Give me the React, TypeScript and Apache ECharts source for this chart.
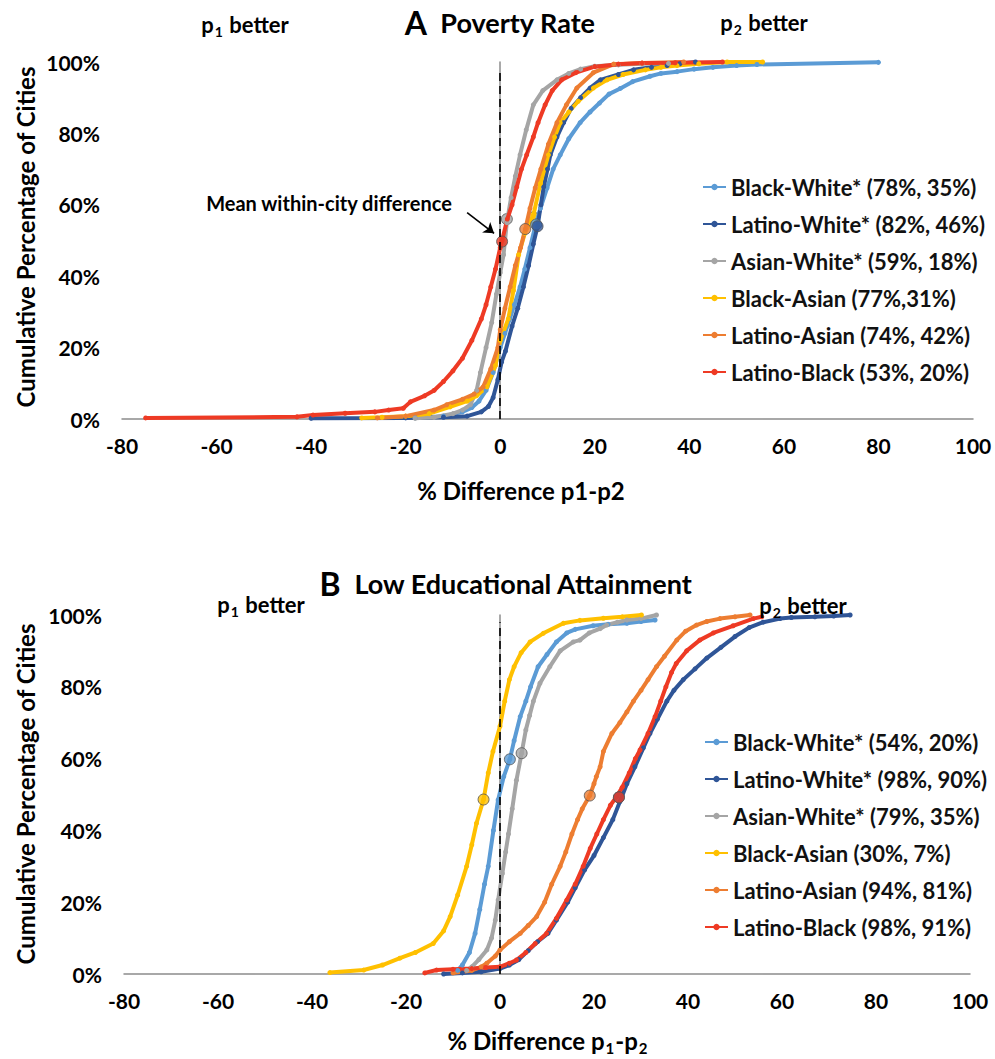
import React, { useEffect, useRef } from 'react';
import * as echarts from 'echarts';

// ---------- DATA ----------
const xTicks = [-80, -60, -40, -20, 0, 20, 40, 60, 80, 100];

const seriesNames = ['Black-White*', 'Latino-White*', 'Asian-White*', 'Black-Asian', 'Latino-Asian', 'Latino-Black'];
const povertyLegendStats = ['(78%, 35%)', '(82%, 46%)', '(59%, 18%)', '(77%,31%)', '(74%, 42%)', '(53%, 20%)'];
const educationLegendStats = ['(54%, 20%)', '(98%, 90%)', '(79%, 35%)', '(30%, 7%)', '(94%, 81%)', '(98%, 91%)'];

// Panel A: Poverty Rate  [difference, cumulative %]
const povBlackWhite = [[-18,0.3],[-12,0.8],[-8,2],[-6,3.2],[-4.5,5],[-3,8],[-1.5,13],[0,20],[1,24],[2,28],[3,32],[4.2,37],[5.2,42],[6.3,48],[7.4,54],[8.5,59],[9.9,64.7],[11.2,70],[12.7,74],[14.5,78.5],[16.9,83],[19,86],[21,88.5],[23,91],[25.4,92.6],[28,94.5],[31.7,96],[34,96.8],[37.4,97.3],[41,98],[45,98.5],[50,99],[54.3,99.3],[80,99.9]];
const povLatinoWhite = [[-40,0.2],[-20,0.3],[-12,0.5],[-7,0.8],[-4,2],[-2.5,3.5],[-1.5,6],[-0.5,11],[0.3,16],[1.1,19],[2.5,26],[3.7,31],[4.9,37],[6,43],[7,49],[7.9,54],[8.6,60],[9.2,65],[10,70],[10.6,74],[12,79],[13.4,83],[15,87],[17,90],[19,92.7],[21.2,95],[25,96.5],[28.2,97.8],[32,98.5],[35.3,99],[38,99.5],[41.3,100]];
const povAsianWhite = [[-18,0.2],[-14,0.5],[-10,1.5],[-8,2.5],[-6.3,4],[-5,8],[-4.2,13],[-3,20],[-1.8,27],[-0.8,35],[0,41],[0.7,46],[1.4,55],[2.3,62],[3.2,68],[4.2,74],[5.5,81],[7,88],[9,92],[12,95],[14.5,96.8],[17,98],[20,98.8],[25,99.2],[30,99.5],[35.6,99.6]];
const povBlackAsian = [[-29.3,0.3],[-25,0.5],[-20,0.8],[-15,1.5],[-10.6,3.4],[-7,5],[-5,6.5],[-2.8,9],[-1,15],[0,22],[1.7,28],[2.8,36],[3.9,46],[5.2,52],[7,57],[8.5,66],[10.2,74],[11.5,79],[12.7,83],[14.5,86],[16.5,89],[19.7,92.7],[22.6,95],[26,96.5],[30.7,97.8],[34,98.5],[37.4,99],[42,99.5],[48,100],[55.5,100]];
const povLatinoAsian = [[-26,0.3],[-20,0.8],[-14,2.5],[-11.3,4],[-8,5.5],[-5.5,7],[-3.6,9],[-2,14],[-0.5,20],[0,25],[1,31],[2.1,37],[3.2,43],[4.3,48],[5.3,53.2],[6.3,59],[7.4,64.7],[8.6,70],[10.2,77],[12,83],[14,88],[16.2,92.7],[19.7,97],[24,99.4],[30,99.7],[38.8,100]];
const povLatinoBlack = [[-75,0.3],[-43,0.6],[-39.6,1.1],[-32.8,1.6],[-26.5,2],[-23.6,2.5],[-20.5,3],[-19,4.8],[-16,6.5],[-14,8],[-12,10.5],[-10,13.5],[-8,17],[-6,22],[-4,28],[-3,32],[-2,37],[-1,42],[0,48],[0.4,50],[1.5,56],[2.5,60],[3.5,65],[4.5,70],[5.6,74],[7,79],[8,83],[9.5,88],[11,92],[13,95],[16,97],[20,98.7],[25,99.4],[30,99.7],[37,99.8],[47,100]];

// Panel A mean within-city differences
const povMeans = [[7.6,54.5],[7.9,54],[1.4,56],[7.0,56.5],[5.3,53.2],[0.4,49.7]];

// Panel B: Low Educational Attainment
const eduBlackWhite = [[-9,1],[-8,2.5],[-6.5,6],[-5.3,11.3],[-4.3,18],[-3.3,25],[-2.5,30],[-1.4,40],[-0.4,48.5],[0.8,55],[2.1,59.8],[3,65],[4.3,71.7],[5.5,76],[6.5,80],[8.1,85.6],[10,89],[12,92.5],[14.2,95],[16,96],[19.8,97],[23,97.4],[27,97.7],[30,98.2],[33,98.6]];
const eduLatinoWhite = [[-12,0],[-8,0.3],[-4,0.6],[0,1.5],[2,2.5],[4,4],[6,6.5],[8,9],[10.2,11.3],[12,15],[14.4,20],[16,24],[18,29],[20,33],[22,38],[24,43],[25.5,48],[27,53],[28.7,57.7],[30.5,63],[31.9,67],[33.5,71],[35.5,76],[37,79],[39,82],[41.5,85],[44,88],[47,91],[50,94],[53,96.5],[56,98],[59.6,99],[62,99.3],[67,99.5],[71,99.7],[74.5,100]];
const eduAsianWhite = [[-7.1,1],[-6,2],[-4.5,4],[-2.8,6.7],[-1.8,10],[-1,15],[-0.4,20.6],[0.5,28],[1.2,34],[1.8,39],[2.6,46],[3.5,54],[4.6,61.5],[5.5,68],[6.3,72],[7.1,76],[8.5,81],[10.6,85.6],[12.8,90],[15.6,92.5],[17,93],[19,95],[21.3,96.2],[22.7,97.2],[25,98],[27,98.6],[30,99],[33.3,100]];
const eduBlackAsian = [[-36.2,0.4],[-29,1.1],[-25,2.5],[-21.3,4.4],[-18,6],[-14.2,8.5],[-12,12],[-10.6,16],[-9,22],[-7.1,30],[-6,36],[-5,42],[-3.5,48.6],[-2.5,56],[-1.5,62],[0,69],[1,76],[2,82],[3,85.6],[4.5,89.5],[6.4,92.5],[9.2,94.9],[13.5,97.7],[17,98.5],[22,99.1],[26,99.5],[30.1,100]];
const eduLatinoAsian = [[-10,0.3],[-6,1],[-4,2],[-2.8,3],[-1,5],[0,6.7],[2,9],[4.3,11.3],[6,13.5],[7.8,16],[9.5,20],[11,25],[12.8,30],[14,34],[15.3,39],[16.5,43],[17.5,46],[19.1,49.7],[20,53],[20.5,55],[21.3,57.7],[22,62],[23.8,67],[25.5,70],[27,73],[28.4,76],[30,79],[31.5,82],[33.3,85.6],[35,88.5],[37.6,93],[39.5,95.5],[41.8,97.2],[44,98.2],[46.8,99],[50,99.5],[53.2,100]];
const eduLatinoBlack = [[-16,0.3],[-13.5,1.1],[-10,1.3],[-6,1.5],[-3,1.8],[0,2],[2,3],[3.5,3.9],[5.5,6],[7.5,8.5],[9.9,11.3],[12,15.5],[14.2,20.6],[16,25],[17.7,30],[19.2,35],[20.6,39],[22,43],[23.5,47],[24.8,49.4],[26,52],[27.5,56],[28.8,60],[29.8,62.4],[31.5,67],[33,71.7],[34.2,76],[35.3,80],[36.5,84],[37.5,86.5],[39.7,90],[42.5,93],[45.4,95],[49.6,97],[53.9,99],[55.7,99.5]];

// Panel B mean within-city differences
const eduMeans = [[2.1,59.8],[25.3,49.2],[4.6,61.5],[-3.5,48.6],[19.1,49.7],[25.3,49.2]];

const colors = ['#5B9BD5', '#2F5597', '#A5A5A5', '#FFC000', '#ED7D31', '#EE3A24'];
const FONT = 'Lato, "Open Sans", "DejaVu Sans", sans-serif';

const povertyData = [povBlackWhite, povLatinoWhite, povAsianWhite, povBlackAsian, povLatinoAsian, povLatinoBlack];
const educationData = [eduBlackWhite, eduLatinoWhite, eduAsianWhite, eduBlackAsian, eduLatinoAsian, eduLatinoBlack];
// marker drawing order (bottom to top) and their z
const povMeanOrder = [2, 3, 0, 1, 4, 5];
const povMeanZ = [1, 1, 4, 4, 4, 4];
const eduMeanOrder = [0, 2, 3, 4, 1, 5];

function buildOption() {
  const namesA = seriesNames.map((n, i) => `${n} ${povertyLegendStats[i]}`);
  const namesB = seriesNames.map((n, i) => `${n} ${educationLegendStats[i]}`);

  const lineSeries = (name: string, data: number[][], color: string, gi: number, extra: any = {}) => ({
    type: 'line',
    name,
    data,
    xAxisIndex: gi,
    yAxisIndex: gi,
    symbol: 'circle',
    symbolSize: 5,
    showSymbol: true,
    showAllSymbol: true,
    lineStyle: { color, width: 4 },
    itemStyle: { color },
    emphasis: { disabled: true },
    z: 2,
    ...extra,
  });

  const dashedZero = {
    silent: true,
    symbol: ['none', 'none'],
    label: { show: false },
    lineStyle: { color: '#000', type: [8, 5], width: 1.6 },
    data: [[{ coord: [0, 0] }, { coord: [0, 98] }]],
  };

  const series: any[] = [];
  povertyData.forEach((d, i) => {
    const extra: any = {};
    if (i === 0) extra.markLine = dashedZero;
    if (i === 5) {
      extra.markLine = {
        silent: true,
        symbol: ['none', 'arrow'],
        symbolSize: 10,
        label: { show: false },
        lineStyle: { color: '#000', type: 'solid', width: 1.6 },
        itemStyle: { color: '#000' },
        data: [[{ coord: [-7.0, 57.8] }, { coord: [-1.3, 52.0] }]],
      };
    }
    series.push(lineSeries(namesA[i], d, colors[i], 0, extra));
  });
  educationData.forEach((d, i) => {
    const extra: any = {};
    if (i === 0) extra.markLine = dashedZero;
    series.push(lineSeries(namesB[i], d, colors[i], 1, extra));
  });
  povMeanOrder.forEach((i, k) => {
    series.push({
      type: 'scatter', name: 'meanA' + i, xAxisIndex: 0, yAxisIndex: 0,
      data: [povMeans[i]], symbol: 'circle', symbolSize: 11,
      itemStyle: { color: colors[i], borderColor: '#555', borderWidth: 1 }, z: povMeanZ[k],
    });
  });
  eduMeanOrder.forEach((i) => {
    series.push({
      type: 'scatter', name: 'meanB' + i, xAxisIndex: 1, yAxisIndex: 1,
      data: [eduMeans[i]], symbol: 'circle', symbolSize: 11,
      itemStyle: { color: colors[i], borderColor: '#555', borderWidth: 1 }, z: 4,
    });
  });

  const xAxis = (gi: number) => ({
    type: 'value', gridIndex: gi, min: -80, max: 100, interval: 20,
    axisLine: { show: true, onZero: false, lineStyle: { color: '#8c8c8c', width: 1.5 } },
    axisTick: { show: false },
    splitLine: { show: false },
    axisLabel: { color: '#000', fontSize: 21, fontWeight: 'bold', fontFamily: FONT, margin: 16,
      customValues: xTicks },
  });
  const yAxis = (gi: number) => ({
    type: 'value', gridIndex: gi, min: 0, max: 100, interval: 20,
    axisLine: { show: true, lineStyle: { color: '#8c8c8c', width: 1.5 } },
    axisTick: { show: false },
    splitLine: { show: false },
    axisLabel: { color: '#000', fontSize: 21, fontWeight: 'bold', fontFamily: FONT, margin: 22, formatter: '{value}%' },
  });

  const legendCommon = {
    orient: 'vertical',
    itemWidth: 23,
    itemHeight: 8,
    itemGap: 15,
    selectedMode: false,
    textStyle: { fontSize: 22, fontWeight: 'bold', color: '#111', fontFamily: FONT, lineHeight: 22 },
  };

  const txt = (x: number, y: number, text: string, size: number, extra: any = {}) => ({
    type: 'text', x, y, z: 10, silent: true,
    style: { text, fill: '#000', fontSize: size, fontWeight: 'bold', fontFamily: FONT, align: 'center', verticalAlign: 'middle', ...extra },
  });
  const subRich = (size: number) => ({
    n: { fontSize: size, fontWeight: 'bold', fontFamily: FONT, fill: '#000', lineHeight: size + 6 },
    s: { fontSize: Math.round(size * 0.62), fontWeight: 'bold', fontFamily: FONT, fill: '#000', lineHeight: Math.round(size * 0.62), verticalAlign: 'bottom', padding: [0, 1, 0, 1] },
  });
  const titleRich = {
    a: { fontSize: 32, fontWeight: 'bold', fontFamily: FONT, fill: '#000' },
    b: { fontSize: 27, fontWeight: 'bold', fontFamily: FONT, fill: '#000' },
  };

  const graphic = [
    txt(500, 22, '{a|A}  {b|Poverty Rate}', 27, { rich: titleRich }),
    txt(506, 583, '{a|B}  {b|Low Educational Attainment}', 27, { rich: titleRich }),
    { ...txt(25, 237, 'Cumulative Percentage of Cities', 24), rotation: Math.PI / 2 },
    { ...txt(25, 794, 'Cumulative Percentage of Cities', 24), rotation: Math.PI / 2 },
    txt(521, 490, '% Difference p1-p2', 24),
    txt(548, 1040, '{n|% Difference p}{s|1}{n|-p}{s|2}', 24, { rich: subRich(24) }),
    txt(245, 24, '{n|p}{s|1}{n| better}', 22, { rich: subRich(22) }),
    txt(764, 22, '{n|p}{s|2}{n| better}', 22, { rich: subRich(22) }),
    txt(261, 604, '{n|p}{s|1}{n| better}', 22, { rich: subRich(22) }),
    txt(803, 605, '{n|p}{s|2}{n| better}', 22, { rich: subRich(22) }),
    txt(329, 203, 'Mean within-city difference', 20),
  ];

  return {
    animation: false,
    backgroundColor: '#fff',
    textStyle: { fontFamily: FONT },
    grid: [
      { left: 122, top: 62, width: 851, height: 357 },
      { left: 124, top: 615, width: 846, height: 359 },
    ],
    xAxis: [xAxis(0), xAxis(1)],
    yAxis: [yAxis(0), yAxis(1)],
    legend: [
      { ...legendCommon, left: 697, top: 171, data: namesA },
      { ...legendCommon, left: 699, top: 726, data: namesB },
    ],
    graphic,
    series,
  };
}

export default function App() {
  const ref = useRef<HTMLDivElement>(null);
  useEffect(() => {
    if (!ref.current) return;
    const chart = echarts.init(ref.current, null, { renderer: 'svg' });
    chart.setOption(buildOption() as any);
    return () => chart.dispose();
  }, []);
  return (
    <div
      ref={ref}
      style={{ position: 'absolute', left: 0, top: 0, width: 995, height: 1059, background: '#fff' }}
    />
  );
}
